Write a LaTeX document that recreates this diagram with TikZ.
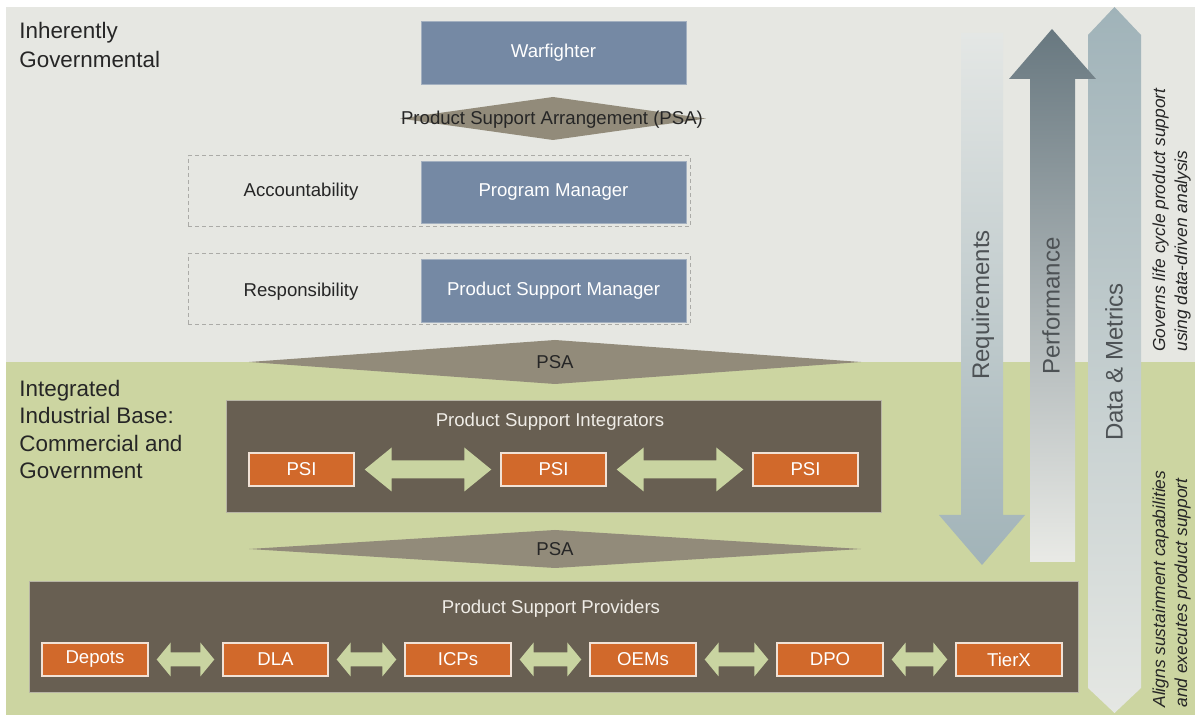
\documentclass[tikz,border=0pt]{standalone}
\usepackage{fontspec}
\setmainfont{Liberation Sans}
\usetikzlibrary{calc,fit}

\definecolor{govbg}{HTML}{E6E7E2}
\definecolor{indbg}{HTML}{CCD5A1}
\definecolor{mgrblue}{HTML}{7589A4}
\definecolor{mgredge}{HTML}{A3B0C0}
\definecolor{groupbrown}{HTML}{685F52}
\definecolor{groupedge}{HTML}{B8B5A5}
\definecolor{supporange}{HTML}{D1692B}
\definecolor{suppedge}{HTML}{F1E2D6}
\definecolor{psafill}{HTML}{928B7A}
\definecolor{linkgreen}{HTML}{C9D4A1}
\definecolor{dashgray}{HTML}{ABABA7}
\definecolor{titlelight}{HTML}{EFECE6}
\definecolor{flowtext}{HTML}{4D5255}
\definecolor{reqtop}{HTML}{E4E7E5}
\definecolor{reqbot}{HTML}{A1B3B8}
\definecolor{perftop}{HTML}{687880}
\definecolor{perfbot}{HTML}{E9EAE6}
\definecolor{dmtop}{HTML}{A0B3B9}
\definecolor{dmbot}{HTML}{E5E7E3}

% two-headed horizontal block arrow between the points #1 and #2
% #3 = half head height, #4 = half shaft height, #5 = head length
\newcommand\biarrow[5]{%
  \fill[link] (#1) -- ($(#1)+(#5,-#3)$) -- ($(#1)+(#5,-#4)$)
    -- ($(#2)+(-#5,-#4)$) -- ($(#2)+(-#5,-#3)$) -- (#2)
    -- ($(#2)+(-#5,#3)$) -- ($(#2)+(-#5,#4)$)
    -- ($(#1)+(#5,#4)$) -- ($(#1)+(#5,#3)$) -- cycle;}

\begin{document}
\begin{tikzpicture}[x=0.5pt,y=-0.5pt,
  every node/.style={font=\fontsize{9.3}{11}\selectfont},
  boxtext/.style={text=white},
  mgrbox/.style={fill=mgrblue, draw=mgredge, line width=0.4pt, inner sep=0pt},
  groupbox/.style={fill=groupbrown, draw=groupedge, line width=0.5pt, inner sep=0pt},
  suppbox/.style={fill=supporange, draw=suppedge, line width=0.7pt, inner sep=0pt},
  dashbox/.style={draw=dashgray, dash pattern=on 2pt off 1.5pt, line width=0.5pt, inner sep=0pt},
  psashape/.style={fill=psafill},
  link/.style={fill=linkgreen},
  grouptitle/.style={text=titlelight},
  flowlabel/.style={rotate=90, font=\fontsize{12}{14}\selectfont, text=flowtext},
  sidenote/.style={rotate=90, anchor=north west, align=left, inner sep=0pt,
    font=\fontsize{8.7}{11}\selectfont\itshape, text=black!85},
  zonelabel/.style={anchor=north west, align=left, inner sep=0pt, text=black!85}
]
\useasboundingbox (0,0) rectangle (1195,715);
\fill[white] (0,0) rectangle (1195,715);

% the two zones
\fill[govbg] (6,7) rectangle (1195,362);
\fill[indbg] (6,362) rectangle (1195,715);

\node[zonelabel, font=\fontsize{11.2}{14.5}\selectfont] (govlabel) at (19,22) {Inherently\\Governmental};
\node[zonelabel, font=\fontsize{11.2}{13.6}\selectfont] (indlabel) at (19,380) {Integrated\\Industrial Base:\\Commercial and\\Government};

% vertical flows on the right
\shade[top color=reqtop, bottom color=reqbot]
  (961,33) -- (1003,33) -- (1003,515) -- (1025,515) -- (982,565) -- (939,515) -- (961,515) -- cycle;
\shade[top color=dmtop, bottom color=dmbot]
  (1114.5,7) -- (1141,35) -- (1141,688) -- (1114.5,713) -- (1088,688) -- (1088,35) -- cycle;
\shade[top color=perftop, bottom color=perfbot]
  (1052,29) -- (1096,79) -- (1075,79) -- (1075,562) -- (1030,562) -- (1030,79) -- (1009,79) -- cycle;

\node[flowlabel] (req) at (983,305) {Requirements};
\node[flowlabel] (perf) at (1051,306) {Performance};
\node[flowlabel] (dm) at (1114,362) {Data \& Metrics};

\node[sidenote] (governs) at (1152,352) {Governs life cycle product support\\using data-driven analysis};
\node[sidenote] (aligns) at (1152,708) {Aligns sustainment capabilities\\and executes product support};

% government chain
\node[mgrbox, fit={(421,21) (686,84)}, label={[boxtext]center:Warfighter}] (warfighter) {};

\fill[psashape] (400,118.5) -- (553,97) -- (706,118.5) -- (553,140) -- cycle;
\node[text=black!85] (psatop) at (552,120) {Product Support Arrangement (PSA)};

\node[dashbox, fit={(188,156) (690,227)}] (accframe) {};
\node[text=black!85] (acc) at (301,192) {Accountability};
\node[mgrbox, fit={(421,161) (686,223)}, label={[boxtext]center:Program Manager}] (pm) {};

\node[dashbox, fit={(188,254) (690,325)}] (respframe) {};
\node[text=black!85] (resp) at (301,292) {Responsibility};
\node[mgrbox, fit={(421,259) (686,322)}, label={[boxtext]center:Product Support Manager}] (psm) {};

\fill[psashape] (249,362) -- (555,340) -- (861,362) -- (555,384) -- cycle;
\node[text=black!85] (psamid) at (555,362) {PSA};

% product support integrators
\node[groupbox, fit={(226,401) (881,513)}] (integrators) {};
\node[grouptitle] (inttitle) at (550,422) {Product Support Integrators};
\node[suppbox, fit={(249,453) (354,486)}, label={[boxtext]center:PSI}] (psi1) {};
\node[suppbox, fit={(501,453) (606,486)}, label={[boxtext]center:PSI}] (psi2) {};
\node[suppbox, fit={(753,453) (858,486)}, label={[boxtext]center:PSI}] (psi3) {};

\foreach \a/\b in {psi1/psi2, psi2/psi3} {
  \coordinate (l) at ($(\a.east)+(10,0)$);
  \coordinate (r) at ($(\b.west)+(-9,0)$);
  \biarrow{l}{r}{22}{9}{27}
}

\fill[psashape] (249,549) -- (555,530) -- (861,549) -- (555,568) -- cycle;
\node[text=black!85] (psalow) at (555,549) {PSA};

% product support providers
\node[groupbox, fit={(29,582) (1078,693)}] (providers) {};
\node[grouptitle] (provtitle) at (551,609) {Product Support Providers};
\node[suppbox, fit={(42,643) (148,676)}, label={[boxtext]center:Depots}] (depots) {};
\node[suppbox, fit={(223,643) (328,676)}, label={[boxtext]center:DLA}] (dla) {};
\node[suppbox, fit={(405,643) (511,676)}, label={[boxtext]center:ICPs}] (icps) {};
\node[suppbox, fit={(590,643) (696,676)}, label={[boxtext]center:OEMs}] (oems) {};
\node[suppbox, fit={(777,643) (883,676)}, label={[boxtext]center:DPO}] (dpo) {};
\node[suppbox, fit={(956,643) (1062,676)}, label={[boxtext]center:TierX}] (tierx) {};

\foreach \a/\b in {depots/dla, dla/icps, icps/oems, oems/dpo, dpo/tierx} {
  \coordinate (l) at ($(\a.east)+(8,0)$);
  \coordinate (r) at ($(\b.west)+(-8,0)$);
  \biarrow{l}{r}{17}{7}{14}
}
\end{tikzpicture}
\end{document}
